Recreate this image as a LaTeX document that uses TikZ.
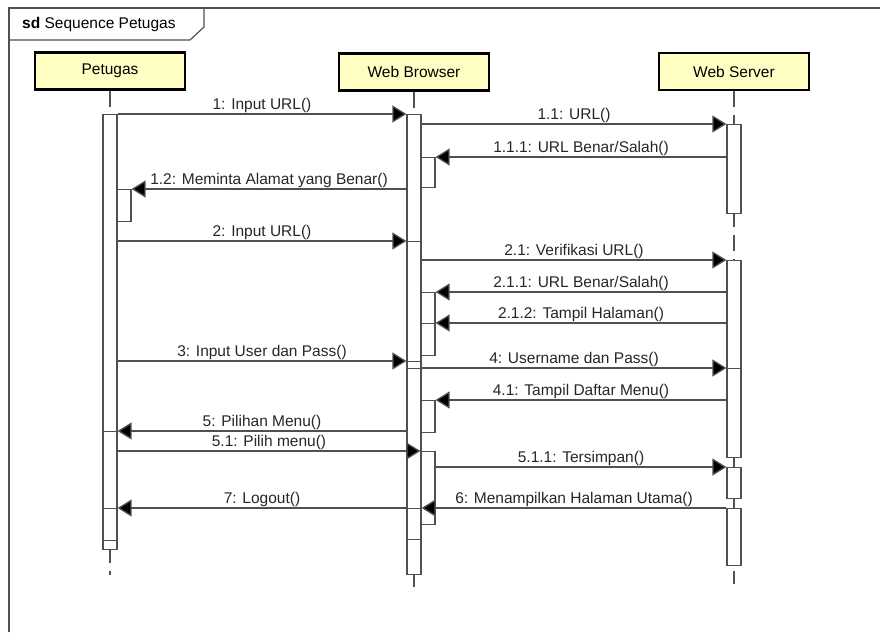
\documentclass[tikz,border=0pt]{standalone}
\usepackage{fontspec}
\setmainfont{Liberation Sans}
\usetikzlibrary{arrows.meta,positioning,calc}

\definecolor{headfill}{RGB}{255,255,196}
\definecolor{linegray}{RGB}{80,80,80}

\begin{document}
\begin{tikzpicture}[
    x=1pt, y=-1pt,
    font=\fontsize{15.5}{18}\selectfont,
    head/.style={rectangle, draw=black, line width=2.6pt, fill=headfill, minimum width=150pt, minimum height=37pt, inner sep=0pt},
    actbar/.style={rectangle, draw=linegray, line width=1.2pt, fill=white, minimum width=14pt, inner sep=0pt, anchor=north},
    lifeline/.style={draw=linegray, line width=1.6pt, dash pattern=on 16pt off 8pt},
    msg/.style={draw=linegray, line width=1.3pt, -{Triangle[length=14pt, width=17pt, fill=black]}},
    lbl/.style={midway, above, inner sep=1pt, text=black!85}
]
\useasboundingbox (0,0) rectangle (880,632);

% frame and title tab
\draw[linegray, line width=1.2pt] (9,632) -- (9,8) -- (880,8);
\draw[linegray, line width=1.2pt] (9,40) -- (190,40) -- (204,27) -- (204,8);
\node[anchor=west, inner sep=0pt] (title) at (22,24) {\textbf{sd} Sequence Petugas};

% lifeline heads
\node[head] (petugas) at (110,71) {Petugas};
\node[head] (browser) at (414,72) {Web Browser};
\node[head] (server) at (734,71.5) {Web Server};

% lifeline ends
\coordinate (petugasEnd) at (110,575);
\coordinate (browserEnd) at (414,587);
\coordinate (serverEnd) at (734,584);

\draw[lifeline] (petugas.south) -- (petugasEnd);
\draw[lifeline] (browser.south) -- (browserEnd);
\draw[lifeline] (server.south) -- (serverEnd);

% Petugas activations
\node[actbar, minimum height=317pt] (p1) at (110,114) {};
\node[actbar, minimum height=77pt] (p2) at (110,431) {};
\node[actbar, minimum height=32pt] (p3) at (110,508) {};
\node[actbar, minimum height=9pt] (p4) at (110,540) {};
\node[actbar, minimum height=32pt] (pN) at (124,189) {};

% Web Browser activations
\node[actbar, minimum height=127pt] (b1) at (414,114) {};
\node[actbar, minimum height=120pt] (b2) at (414,241) {};
\node[actbar, minimum height=7pt] (b3) at (414,361) {};
\node[actbar, minimum height=140pt] (b4) at (414,368) {};
\node[actbar, minimum height=31pt] (b5) at (414,508) {};
\node[actbar, minimum height=35pt] (b6) at (414,539) {};
\node[actbar, minimum height=30pt] (bN1) at (428,157) {};
\node[actbar, minimum height=31pt] (bN2) at (428,292) {};
\node[actbar, minimum height=32pt] (bN3) at (428,323) {};
\node[actbar, minimum height=32pt] (bN4) at (428,400) {};
\node[actbar, minimum height=73pt] (bN5) at (428,451) {};

% Web Server activations
\node[actbar, minimum height=89pt] (s1) at (734,124) {};
\node[actbar, minimum height=108pt] (s2) at (734,260) {};
\node[actbar, minimum height=89pt] (s3) at (734,368) {};
\node[actbar, minimum height=31pt] (s4) at (734,467) {};
\node[actbar, minimum height=57pt] (s5) at (734,508) {};

% messages
\draw[msg] (p1.north east) -- (b1.north west) node[lbl] {1: Input URL()};
\draw[msg] (b1.east |- s1.north) -- (s1.north west) node[lbl] {1.1: URL()};
\draw[msg] (s1.west |- bN1.north) -- (bN1.north east) node[lbl] {1.1.1: URL Benar/Salah()};
\draw[msg] (b1.west |- pN.north) -- (pN.north east) node[lbl] {1.2: Meminta Alamat yang Benar()};
\draw[msg] (p1.east |- b2.north) -- (b2.north west) node[lbl] {2: Input URL()};
\draw[msg] (b2.east |- s2.north) -- (s2.north west) node[lbl] {2.1: Verifikasi URL()};
\draw[msg] (s2.west |- bN2.north) -- (bN2.north east) node[lbl] {2.1.1: URL Benar/Salah()};
\draw[msg] (s2.west |- bN3.north) -- (bN3.north east) node[lbl] {2.1.2: Tampil Halaman()};
\draw[msg] (p1.east |- b3.north) -- (b3.north west) node[lbl] {3: Input User dan Pass()};
\draw[msg] (b4.north east) -- (s3.north west) node[lbl] {4: Username dan Pass()};
\draw[msg] (s3.west |- bN4.north) -- (bN4.north east) node[lbl] {4.1: Tampil Daftar Menu()};
\draw[msg] (b4.west |- p2.north) -- (p2.north east) node[lbl] {5: Pilihan Menu()};
\draw[msg] (p2.east |- bN5.north) -- (bN5.north west) node[lbl] {5.1: Pilih menu()};
\draw[msg] (bN5.east |- s4.north) -- (s4.north west) node[lbl] {5.1.1: Tersimpan()};
\draw[msg] (s5.north west) -- (b5.north east) node[lbl] {6: Menampilkan Halaman Utama()};
\draw[msg] (b5.north west) -- (p3.north east) node[lbl] {7: Logout()};

\end{tikzpicture}
\end{document}
